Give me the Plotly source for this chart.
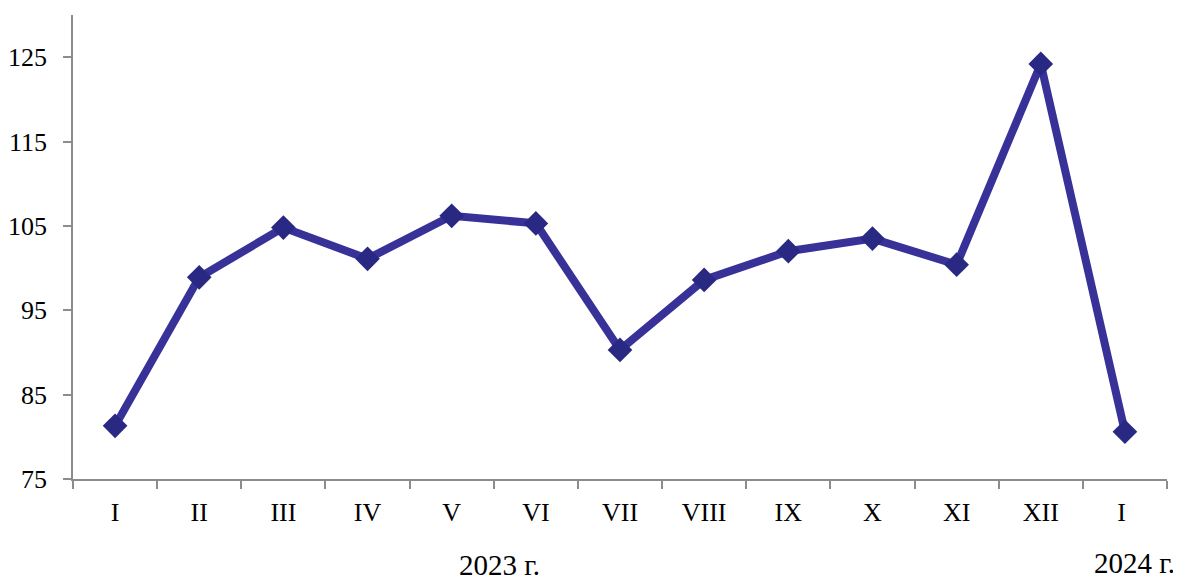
import plotly.graph_objects as go

months = ["I", "II", "III", "IV", "V", "VI", "VII", "VIII", "IX", "X", "XI", "XII", "I "]
values = [81.3, 98.9, 104.8, 101.1, 106.2, 105.3, 90.3, 98.6, 102.0, 103.5, 100.4, 124.2, 80.6]
y_ticks = [75, 85, 95, 105, 115, 125]
year_labels = ["2023 г.", "2024 г."]

# page body has an 8px margin; compensate so the plot lands where the reference has it
OFF = 8
W, H = 1181 - OFF, 582 - OFF
ML, MR, MT, MB = 72.5 - OFF, 14.3, 15 - OFF, 103.3

fig = go.Figure()
fig.add_trace(go.Scatter(
    x=months, y=values, mode="lines",
    line=dict(color="#383298", width=8),
    hoverinfo="skip", showlegend=False,
))
fig.add_trace(go.Scatter(
    x=months, y=values, mode="markers",
    marker=dict(symbol="diamond", size=19, color="#292983"),
    showlegend=False,
))

family = "Liberation Serif, Times New Roman, serif"
font = dict(family=family, size=26, color="#000000")
year_font = dict(family=family, size=29, color="#000000")

pw = W - ML - MR
ph = H - MT - MB

def px_to_paper(x, y):
    # x, y in screenshot pixels
    return (x - OFF - ML) / pw, (H - MB - (y - OFF)) / ph

a1x, a1y = px_to_paper(499, 565)
a2x, a2y = px_to_paper(1177, 563)

fig.update_layout(
    width=W, height=H,
    margin=dict(l=ML, r=MR, t=MT, b=MB, autoexpand=False),
    paper_bgcolor="white", plot_bgcolor="white",
    font=font,
    xaxis=dict(
        type="category", categoryorder="array", categoryarray=months,
        range=[-0.5, 12.5], tickson="boundaries", automargin=False,
        showline=True, linecolor="#8c8c8c", linewidth=1.5,
        ticks="outside", ticklen=8, tickcolor="#8c8c8c", tickwidth=1.5,
        showgrid=False, zeroline=False, tickfont=font,
        ticklabelstandoff=9,
    ),
    yaxis=dict(
        range=[75, 130], tickvals=y_ticks, automargin=False,
        showline=True, linecolor="#8c8c8c", linewidth=1.5,
        ticks="outside", ticklen=8, tickcolor="#8c8c8c", tickwidth=1.5,
        showgrid=False, zeroline=False, tickfont=font,
        ticklabelstandoff=11,
    ),
    annotations=[
        dict(text=year_labels[0], x=a1x, y=a1y, xref="paper", yref="paper",
             showarrow=False, font=year_font, xanchor="center", yanchor="middle"),
        dict(text=year_labels[1], x=a2x, y=a2y, xref="paper", yref="paper",
             showarrow=False, font=year_font, xanchor="right", yanchor="middle"),
    ],
)

fig.write_html("out.html")
